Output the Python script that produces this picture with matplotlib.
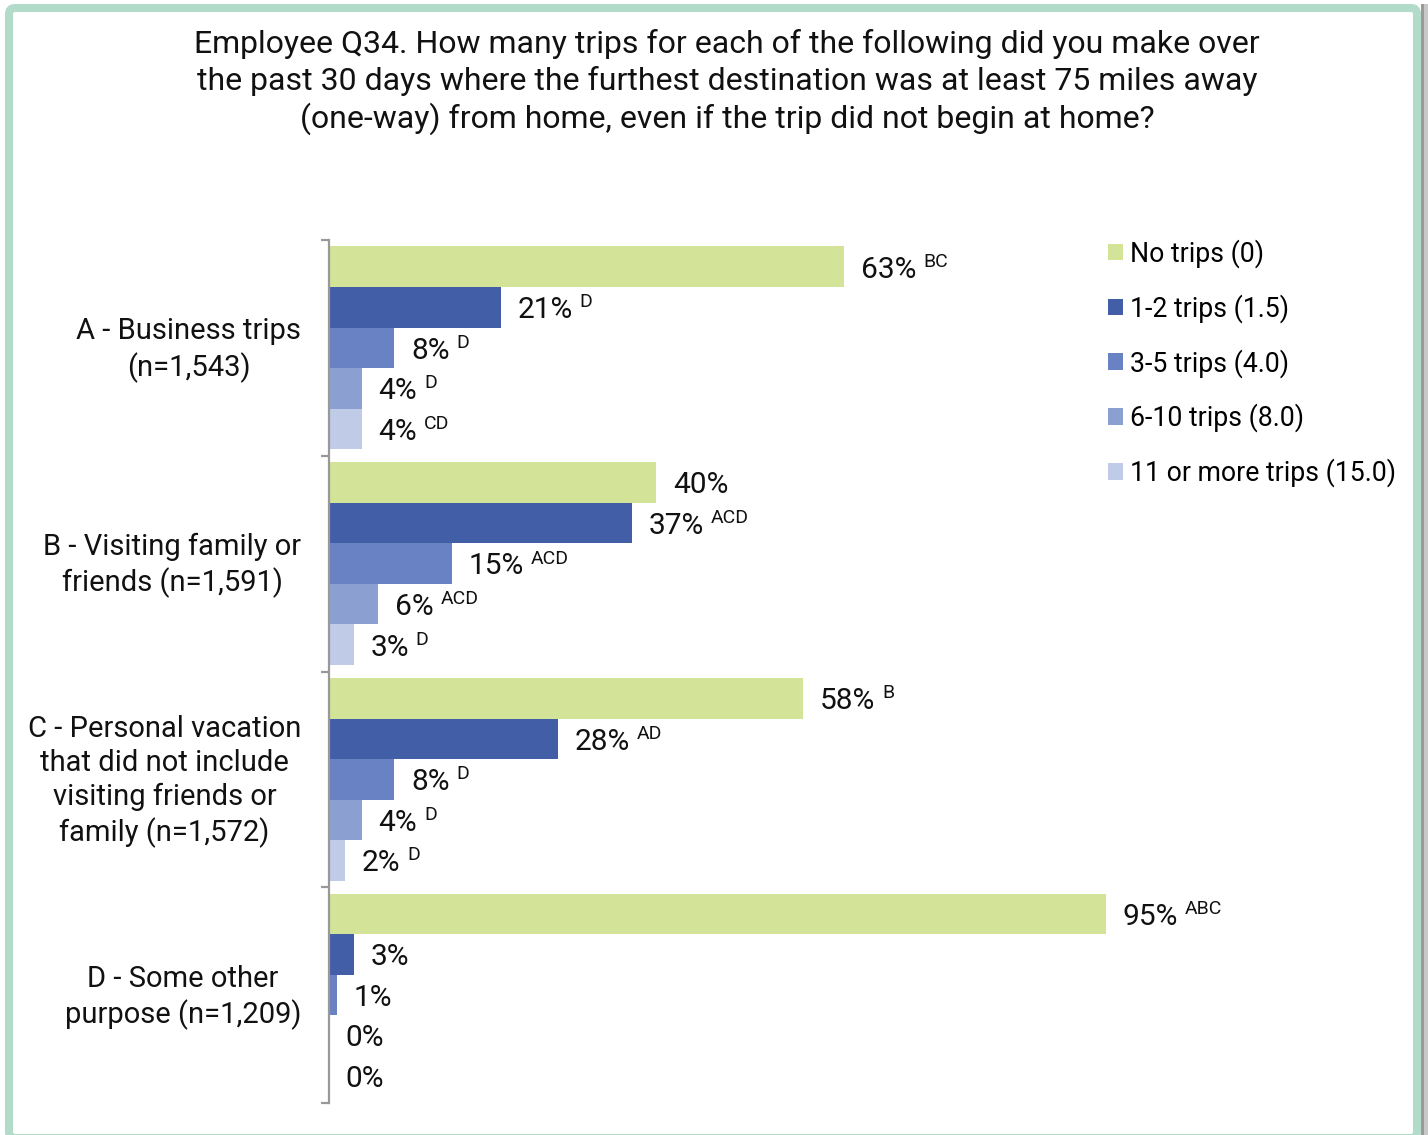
import matplotlib.pyplot as plt
from matplotlib.patches import FancyBboxPatch, Patch, Rectangle
from matplotlib.transforms import IdentityTransform
import numpy as np

plt.rcParams["font.family"] = ["Roboto", "DejaVu Sans"]

# --- data ---
categories = [
    "A - Business trips\n(n=1,543)",
    "B - Visiting family or\nfriends (n=1,591)",
    "C - Personal vacation\nthat did not include\nvisiting friends or\nfamily (n=1,572)",
    "D - Some other\npurpose (n=1,209)",
]
series_names = [
    "No trips (0)",
    "1-2 trips (1.5)",
    "3-5 trips (4.0)",
    "6-10 trips (8.0)",
    "11 or more trips (15.0)",
]
# percent per category (A, B, C, D)
no_trips = [63, 40, 58, 95]
trips_1_2 = [21, 37, 28, 3]
trips_3_5 = [8, 15, 8, 1]
trips_6_10 = [4, 6, 4, 0]
trips_11_plus = [4, 3, 2, 0]
# significance letters shown next to each value
sig_no_trips = ["BC", "", "B", "ABC"]
sig_1_2 = ["D", "ACD", "AD", ""]
sig_3_5 = ["D", "ACD", "D", ""]
sig_6_10 = ["D", "ACD", "D", ""]
sig_11_plus = ["CD", "D", "D", ""]

series = [no_trips, trips_1_2, trips_3_5, trips_6_10, trips_11_plus]
sigs = [sig_no_trips, sig_1_2, sig_3_5, sig_6_10, sig_11_plus]
colors = ["#d3e398", "#415ea7", "#6882c4", "#8b9fd1", "#c0cbe8"]

title = ("Employee Q34. How many trips for each of the following did you make over\n"
         "the past 30 days where the furthest destination was at least 75 miles away\n"
         "(one-way) from home, even if the trip did not begin at home?")

W, H = 1428, 1135
fig = plt.figure(figsize=(W / 100, H / 100), dpi=100)
fig.patch.set_facecolor("white")

# frame with a small drop shadow on the right
fig.add_artist(Rectangle((1421, 0), 7, H - 4, transform=IdentityTransform(),
                         facecolor="#c8c8c8", edgecolor="none", zorder=0))
fig.add_artist(Rectangle((1421, 0), 3, H - 4, transform=IdentityTransform(),
                         facecolor="#9a9a9a", edgecolor="none", zorder=0))
fig.add_artist(FancyBboxPatch((9, -3), 1408, H - 5,
                              boxstyle="round,pad=0,rounding_size=6",
                              transform=IdentityTransform(),
                              facecolor="white", edgecolor="#b2dbca",
                              linewidth=5.8, zorder=1))

ax = fig.add_axes([329 / W, 1 - 1103 / H, 818 / W, (1103 - 240) / H])
ax.set_zorder(2)
ax.patch.set_visible(False)

y = np.arange(len(categories))
bar_h = 0.188
for i, (vals, col) in enumerate(zip(series, colors)):
    pos = y + (i - 2) * bar_h
    ax.barh(pos, vals, height=bar_h, color=col, edgecolor="none")
    for yy, v, s in zip(pos, vals, sigs[i]):
        lbl = ax.annotate(f"{v}%", xy=(v, yy), xytext=(12, -2),
                          textcoords="offset points", ha="left", va="center",
                          fontsize=21.5, color="#111111")
        if s:
            ax.annotate(s, xy=(1, 1), xycoords=lbl, xytext=(5, 2),
                        textcoords="offset points", ha="left", va="top",
                        fontsize=14, color="#111111")

ax.set_xlim(0, 100)
ax.set_ylim(3.5, -0.5)
for side in ["top", "right", "bottom"]:
    ax.spines[side].set_visible(False)
ax.spines["left"].set_color("#999999")
ax.spines["left"].set_linewidth(1.6)
ax.set_xticks([])

# boundary ticks between groups
ax.set_yticks(np.arange(-0.5, 4, 1))
ax.set_yticklabels([])
ax.tick_params(axis="y", which="major", length=6, width=1.6, color="#999999",
               direction="out")

# category names centred on each group, right edge near the axis
for yy, cat in zip(y, categories):
    ax.annotate(cat, xy=(0, yy), xycoords=("axes fraction", "data"),
                xytext=(-20, -1.5), textcoords="offset points",
                ha="right", va="center", multialignment="center",
                fontsize=21, linespacing=1.27, color="#111111")

fig.text(727 / W, 1 - 29 / H, title, ha="center", va="top", fontsize=23,
         linespacing=1.28, color="#111111")

handles = [Patch(facecolor=c, edgecolor="none") for c in colors]
fig.legend(handles, series_names, loc="upper left",
           bbox_to_anchor=(1108 / W, 1 - 239 / H), frameon=False, fontsize=19.2,
           handlelength=0.58, handleheight=0.58, handletextpad=0.25,
           labelspacing=0.98, borderpad=0, borderaxespad=0)

fig.savefig("out.png", dpi=100)
